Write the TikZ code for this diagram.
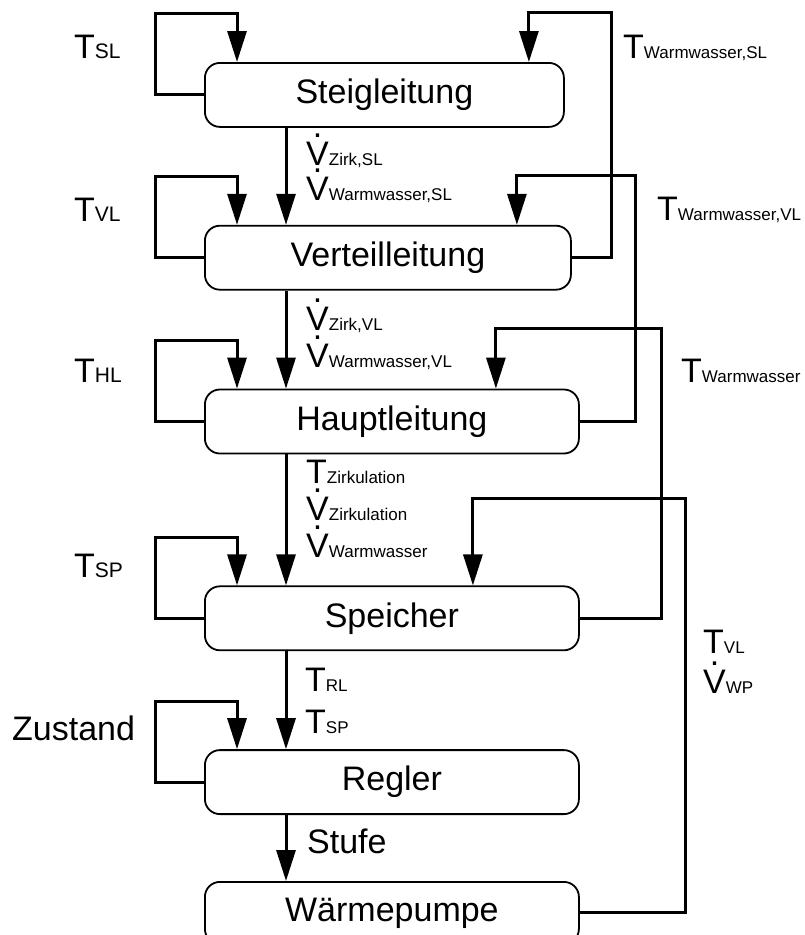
\documentclass[tikz,border=0pt]{standalone}
\usepackage{fontspec}
\setmainfont{Liberation Sans}
\usetikzlibrary{arrows.meta,positioning}
\newcommand\subtxt[1]{{\fontsize{17pt}{17pt}\selectfont #1}}
\newcommand\subleft[1]{{\fontsize{21pt}{21pt}\selectfont #1}}
\newcommand\Vd{\makebox[0pt][l]{\makebox[0.667em][c]{\smash{\raisebox{0.8em}{.}}}}V}

\begin{document}
\begin{tikzpicture}[x=1pt, y=-1pt, >={Triangle[length=31pt,width=19pt]}, font=\fontsize{34pt}{40pt}\selectfont]
  \tikzset{
    block/.style={draw, line width=1.8pt, rounded corners=15pt, minimum height=64pt, inner sep=0pt},
    flow/.style={->, line width=3pt},
    lbl/.style={anchor=base west, inner sep=0pt},
  }
  \useasboundingbox (0,0) rectangle (804,935);

  % blocks
  \node[block, minimum width=359pt, anchor=north west] (steig) at (204,62) {Steigleitung};
  \node[block, minimum width=366pt, below=97pt of steig.south west, anchor=north west] (verteil) {Verteilleitung};
  \node[block, minimum width=374pt, below=98pt of verteil.south west, anchor=north west] (haupt) {Hauptleitung};
  \node[block, minimum width=374pt, below=131pt of haupt.south west, anchor=north west] (speicher) {Speicher};
  \node[block, minimum width=374pt, below=98pt of speicher.south west, anchor=north west] (regler) {Regler};
  \node[block, minimum width=374pt, minimum height=62pt, below=66pt of regler.south west, anchor=north west] (wp) {Wärmepumpe};

  \coordinate (colA) at (286,0);
  \coordinate (colB) at (237,0);

  % main flow
  \draw[flow] (colA |- steig.south) -- (colA |- verteil.north);
  \draw[flow] (colA |- verteil.south) -- (colA |- haupt.north);
  \draw[flow] (colA |- haupt.south) -- (colA |- speicher.north);
  \draw[flow] (colA |- speicher.south) -- (colA |- regler.north);
  \draw[flow] (colA |- regler.south) -- (colA |- wp.north);

  % self loops
  \draw[flow] (steig.west) -| ++(-49,-81) -| (colB |- steig.north);
  \draw[flow] (verteil.west) -| ++(-49,-81) -| (colB |- verteil.north);
  \draw[flow] (haupt.west) -| ++(-49,-81) -| (colB |- haupt.north);
  \draw[flow] (speicher.west) -| ++(-49,-81) -| (colB |- speicher.north);
  \draw[flow] (regler.west) -| ++(-49,-81) -| (colB |- regler.north);

  % feedback lines
  \draw[flow] (verteil.east) -| (611,12) -| ([xshift=144.5pt]steig.north);
  \draw[flow] (haupt.east) -| (635,175) -| ([xshift=129pt]verteil.north);
  \draw[flow] (speicher.east) -| (661,328) -| ([xshift=104pt]haupt.north);
  \draw[flow] (wp.east) -| (685,498) -| ([xshift=81pt]speicher.north);

  % labels left
  \node[lbl] (tsl) at (74,58) {T\subleft{SL}};
  \node[lbl] (tvl) at (74,221) {T\subleft{VL}};
  \node[lbl] (thl) at (74,382) {T\subleft{HL}};
  \node[lbl] (tsp) at (74,577) {T\subleft{SP}};
  \node[lbl] (zust) at (12,740) {Zustand};

  % labels main flow
  \node[lbl] (vzsl) at (306,165) {\Vd\subtxt{Zirk,SL}};
  \node[lbl] (vwsl) at (306,200) {\Vd\subtxt{Warmwasser,SL}};
  \node[lbl] (vzvl) at (306,330) {\Vd\subtxt{Zirk,VL}};
  \node[lbl] (vwvl) at (306,367) {\Vd\subtxt{Warmwasser,VL}};
  \node[lbl] (tzirk) at (306,483) {T\subtxt{Zirkulation}};
  \node[lbl] (vzirk) at (306,520) {\Vd\subtxt{Zirkulation}};
  \node[lbl] (vww) at (306,557) {\Vd\subtxt{Warmwasser}};
  \node[lbl] (trl) at (305,691) {T\subtxt{RL}};
  \node[lbl] (tspr) at (305,733) {T\subtxt{SP}};
  \node[lbl] (stufe) at (307,853) {Stufe};

  % labels right
  \node[lbl] (twsl) at (623,58) {T\subtxt{Warmwasser,SL}};
  \node[lbl] (twvl) at (657,220) {T\subtxt{Warmwasser,VL}};
  \node[lbl] (tww) at (681,382) {T\subtxt{Warmwasser}};
  \node[lbl] (tvlwp) at (703,653) {T\subtxt{VL}};
  \node[lbl] (vwp) at (703,693) {\Vd\subtxt{WP}};
\end{tikzpicture}
\end{document}
